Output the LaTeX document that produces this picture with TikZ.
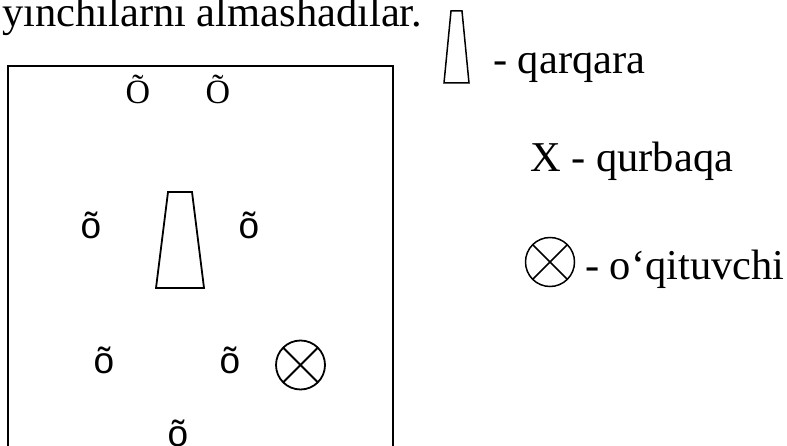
\documentclass[tikz,border=0pt]{standalone}
\usepackage{fontspec}
\setmainfont{Liberation Serif}
\newfontfamily\arialfont{Liberation Sans}
\usetikzlibrary{calc}
\begin{document}
\begin{tikzpicture}[x=1pt,y=-1pt,
  txt/.style={anchor=base west,inner sep=0pt,font=\fontsize{42.5}{50}\selectfont},
  bigO/.style={anchor=base,inner sep=0pt,font=\fontsize{34}{38}\selectfont},
  smallo/.style={anchor=base,inner sep=0pt,font=\arialfont\fontsize{37}{40}\selectfont},
  outl/.style={draw=black,line width=1.8pt,line join=miter},
  legl/.style={draw=black,line width=1.5pt}]
\useasboundingbox (0,0) rectangle (787,446);
% heading
\node[txt] (head) at (2,27) {yınchılarnı almashadılar.};
% field box (bottom edge beyond the picture)
\coordinate (bl) at (8,452);
\coordinate (tl) at (8,66);
\coordinate (tr) at (393,66);
\coordinate (br) at (393,452);
\draw[outl] (bl) -- (tl) -- (tr) -- (br);
% players
\node[bigO] (p1) at (138,104) {Õ};
\node[bigO] (p2) at (218,104) {Õ};
\node[smallo] (p3) at (91,239) {õ};
\node[smallo] (p4) at (249,239) {õ};
\node[smallo] (p5) at (104,373) {õ};
\node[smallo] (p6) at (230,373) {õ};
\node[smallo] (p7) at (178,446) {õ};
% stork (trapezoid) in field
\coordinate (t1) at (168,192);
\coordinate (t2) at (192,192);
\coordinate (t3) at (204,288);
\coordinate (t4) at (156,288);
\draw[outl] (t1) -- (t2) -- (t3) -- (t4) -- cycle;
% teacher in field
\coordinate (tc) at (300.5,365);
\draw[outl] (tc) circle[radius=24.5];
\draw[outl] ($(tc)+(-17.3,-17.3)$) -- ($(tc)+(17.3,17.3)$);
\draw[outl] ($(tc)+(-17.3,17.3)$) -- ($(tc)+(17.3,-17.3)$);
% legend
\coordinate (l1) at (451,11);
\coordinate (l2) at (462,11);
\coordinate (l3) at (469,83);
\coordinate (l4) at (444,83);
\draw[legl] (l1) -- (l2) -- (l3) -- (l4) -- cycle;
\node[txt] (leg1) at (493,74) {- qarqara};
\node[txt] (leg2) at (530,172) {X - qurbaqa};
\coordinate (lc) at (550,262);
\draw[legl] (lc) circle[radius=24.5];
\draw[legl] ($(lc)+(-17.3,-17.3)$) -- ($(lc)+(17.3,17.3)$);
\draw[legl] ($(lc)+(-17.3,17.3)$) -- ($(lc)+(17.3,-17.3)$);
\node[txt] (leg3) at (585,280) {- o‘qituvchi};
\end{tikzpicture}
\end{document}
